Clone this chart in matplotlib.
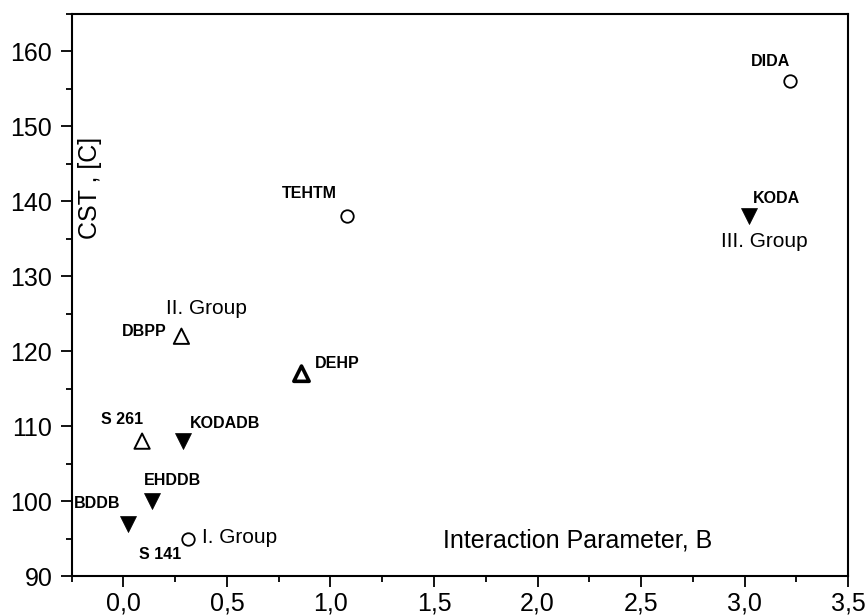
import matplotlib
matplotlib.use('Agg')
import matplotlib.pyplot as plt
from matplotlib.ticker import MultipleLocator, FuncFormatter

plt.rcParams['font.family'] = ['Liberation Sans', 'DejaVu Sans']

# group I - open circles
g1_names = ['S 141', 'TEHTM', 'DIDA']
g1_b = [0.31, 1.08, 3.22]
g1_cst = [95, 138, 156]

# group II - open triangles
g2_names = ['S 261', 'DBPP', 'DEHP']
g2_b = [0.09, 0.28, 0.86]
g2_cst = [108, 122, 117]

# group III - filled down triangles
g3_names = ['BDDB', 'EHDDB', 'KODADB', 'KODA']
g3_b = [0.02, 0.14, 0.29, 3.02]
g3_cst = [97, 100, 108, 138]

# label placement (offset in pixels, alignment)
lab_pos = {
    'S 141': (-6, -16, 'right'),
    'TEHTM': (-10, 23, 'right'),
    'DIDA': (0, 20, 'right'),
    'S 261': (1, 22, 'right'),
    'DBPP': (-15, 5, 'right'),
    'DEHP': (13, 10, 'left'),
    'BDDB': (-7, 20, 'right'),
    'EHDDB': (-9, 21, 'left'),
    'KODADB': (6, 18, 'left'),
    'KODA': (4, 18, 'left'),
}

fig = plt.figure(figsize=(8.68, 6.15), dpi=100)
ax = fig.add_axes([0.0826, 0.0634, 0.8944, 0.9138])

ax.scatter(g1_b, g1_cst, s=9**2, marker='o', facecolors='white', edgecolors='black', linewidths=1.3, zorder=3)
ax.scatter(g2_b, g2_cst, s=11**2, marker='^', facecolors='white', edgecolors='black',
           linewidths=[1.4, 1.4, 2.6], zorder=3)
ax.scatter(g3_b, g3_cst, s=11.5**2, marker='v', facecolors='black', edgecolors='black', linewidths=0.5, zorder=3)

for names, xs, ys in [(g1_names, g1_b, g1_cst), (g2_names, g2_b, g2_cst), (g3_names, g3_b, g3_cst)]:
    for n, x, y in zip(names, xs, ys):
        dx, dy, ha = lab_pos[n]
        ax.annotate(n, (x, y), xytext=(dx, dy), textcoords='offset pixels', ha=ha, va='center',
                    fontsize=11.5, fontweight='bold', color='black')

# group labels
ax.annotate('I. Group', (g1_b[0], g1_cst[0]), xytext=(14, 1), textcoords='offset pixels',
            ha='left', va='center', fontsize=15)
ax.annotate('II. Group', (g2_b[1], g2_cst[1]), xytext=(-15, 28), textcoords='offset pixels',
            ha='left', va='center', fontsize=15)
ax.annotate('III. Group', (g3_b[3], g3_cst[3]), xytext=(-28, -25), textcoords='offset pixels',
            ha='left', va='center', fontsize=15)

ax.text(0.652, 0.064, 'Interaction Parameter, B', transform=ax.transAxes, ha='center', va='center', fontsize=18)
ax.text(0.024, 0.69, 'CST , [C]', transform=ax.transAxes, ha='center', va='center', fontsize=18, rotation=90)

ax.set_xlim(-0.25, 3.5)
ax.set_ylim(90, 165)
ax.xaxis.set_major_locator(MultipleLocator(0.5))
ax.xaxis.set_minor_locator(MultipleLocator(0.25))
ax.yaxis.set_major_locator(MultipleLocator(10))
ax.yaxis.set_minor_locator(MultipleLocator(5))
ax.xaxis.set_major_formatter(FuncFormatter(lambda v, p: '{:.1f}'.format(v).replace('.', ',')))
ax.yaxis.set_major_formatter(FuncFormatter(lambda v, p: '{:.0f}'.format(v)))

ax.tick_params(which='both', direction='out', top=False, right=False, labelsize=18, width=1.3)
ax.tick_params(which='major', length=8)
ax.tick_params(which='minor', length=4.5)
ax.tick_params(axis='x', pad=3)
ax.tick_params(axis='y', pad=6)
for sp in ax.spines.values():
    sp.set_linewidth(1.5)

fig.savefig('out.png', dpi=100)
